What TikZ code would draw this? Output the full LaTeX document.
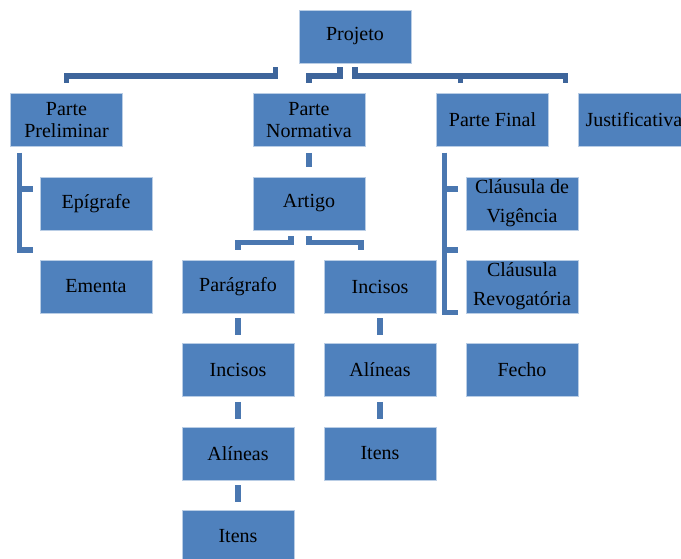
\documentclass[tikz,border=0pt]{standalone}
\usepackage{fontspec}
\setmainfont{Liberation Serif}
\usetikzlibrary{positioning, calc}
\definecolor{cardblue}{HTML}{4F81BD}
\definecolor{cardedge}{HTML}{B9CDE5}
\definecolor{linkdark}{HTML}{3E659B}
\definecolor{linkblue}{HTML}{4A77B0}

\begin{document}
\begin{tikzpicture}[x=1pt, y=1pt,
    font=\fontsize{20}{22}\selectfont,
    card/.style={rectangle, fill=cardblue, draw=cardedge, line width=0.7pt,
                 minimum width=112pt, minimum height=53pt, inner sep=1pt,
                 align=center, text=black},
    toplink/.style={linkdark, line width=5.5pt},
    link/.style={linkblue, line width=5.5pt}]
  \clip (0,0) rectangle (681,-558);

  \node[card] (projeto) at (355,-36.5) {Projeto};

  \node[card] (preliminar) at (66.5,-120) {Parte\\Preliminar};
  \node[card] (normativa)  at (309,-120)  {Parte\\Normativa};
  \node[card] (final)      at (492.5,-120) {Parte Final};
  \node[card] (justif)     at (634,-120)  {Justificativa};

  \node[card] (epigrafe)    at (96,-203.5)  {Epígrafe};
  \node[card] (ementa)      at (96,-286.5)  {Ementa};
  \node[card] (artigo)      at (309,-203.5) {Artigo};
  \node[card] (vigencia)    at (522,-203.5) {Cláusula de\\[7pt]Vigência};
  \node[card] (revogatoria) at (522,-286.5) {Cláusula\\[7pt]Revogatória};
  \node[card] (fecho)       at (522,-370)   {Fecho};

  \node[card] (paragrafo) at (238,-286.5) {Parágrafo};
  \node[card] (incisosA)  at (238,-370)   {Incisos};
  \node[card] (alineasA)  at (238,-453.5) {Alíneas};
  \node[card] (itensA)    at (238,-536.5) {Itens};

  \node[card] (incisosB) at (380,-286.5) {Incisos};
  \node[card] (alineasB) at (380,-370)   {Alíneas};
  \node[card] (itensB)   at (380,-453.5) {Itens};

  \draw[toplink] ([shift={(-23,-4)}]projeto.south west) -- ++(0,-8.5)
    -| ([yshift=10pt]preliminar.north);
  \draw[toplink] ([shift={(-15,-4)}]projeto.south) -- ++(0,-8.5)
    -| ([yshift=10pt]normativa.north);
  \draw[toplink] ([yshift=-4pt]projeto.south) -- ++(0,-8.5)
    -| ([shift={(-68.5,10)}]justif.north);
  \draw[toplink] ([shift={(-32,10)}]final.north) -- ++(0,8.5);

  \foreach \kid/\dy in {epigrafe/-12.5, ementa/9.5}
    \draw[link] ([shift={(9.5,-6)}]preliminar.south west)
      |- ([shift={(-7,\dy)}]\kid.north west);
  \foreach \kid/\dy in {vigencia/-12.5, revogatoria/9.5, fecho/30.5}
    \draw[link] ([shift={(8.5,-6)}]final.south west)
      |- ([shift={(-8,\dy)}]\kid.north west);

  \draw[link] ([yshift=-6pt]normativa.south) -- ([yshift=10pt]artigo.north);
  \draw[link] ([shift={(-18,-6)}]artigo.south) -- ++(0,-6)
    -| ([yshift=10pt]paragrafo.north);
  \draw[link] ([yshift=-6pt]artigo.south) -- ++(0,-6)
    -| ([shift={(-19,10)}]incisosB.north);

  \foreach \up/\down in {paragrafo/incisosA, incisosA/alineasA, alineasA/itensA,
                         incisosB/alineasB, alineasB/itensB}
    \draw[link] ([yshift=-5pt]\up.south) -- ([yshift=8pt]\down.north);
\end{tikzpicture}
\end{document}
